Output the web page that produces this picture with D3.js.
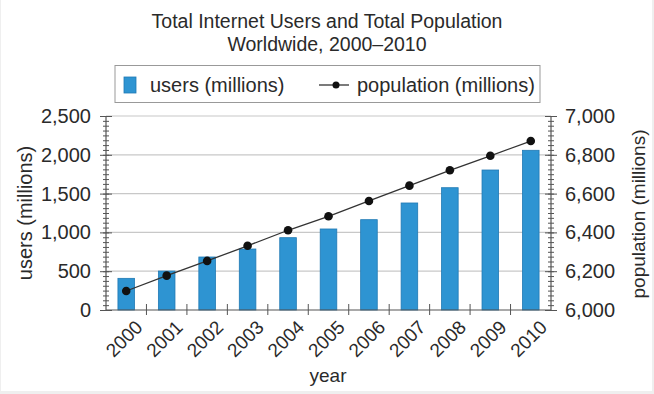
<!DOCTYPE html>
<html>
<head>
<meta charset="utf-8">
<script src="https://cdn.jsdelivr.net/npm/d3@7"></script>
<style>
  html, body { margin: 0; padding: 0; background: #efefef; }
  svg { display: block; }
  text { font-family: "Liberation Sans", Arial, sans-serif; fill: #2a2a2a; }
</style>
</head>
<body>
<svg id="chart" width="654" height="394"></svg>
<script>
// data
var years = ["2000","2001","2002","2003","2004","2005","2006","2007","2008","2009","2010"];
var users = [408, 502, 683, 786, 932, 1044, 1164, 1379, 1576, 1804, 2058];
var population = [6098, 6177, 6253, 6331, 6411, 6483, 6562, 6641, 6720, 6795, 6871];
var usersTicks = [0, 500, 1000, 1500, 2000, 2500];
var popTicks = [6000, 6200, 6400, 6600, 6800, 7000];
var titleLines = ["Total Internet Users and Total Population", "Worldwide, 2000\u20132010"];

var svg = d3.select("#chart");
var plotLeft = 106, plotRight = 551, plotTop = 116, plotBottom = 310;

svg.append("rect")
	.attr("x", 1).attr("y", 0)
	.attr("width", 651).attr("height", 391)
	.attr("fill", "#fff");

var x = d3.scaleBand()
	.domain(years)
	.range([plotLeft, plotRight])
	.paddingInner(0.59)
	.paddingOuter(0.295);

var y = d3.scaleLinear().domain([0, 2500]).range([plotBottom, plotTop]);
var y2 = d3.scaleLinear().domain([6000, 7000]).range([plotBottom, plotTop]);

// grid
svg.append("g")
	.selectAll("line")
	.data(usersTicks.slice(1))
	.join("line")
	.attr("x1", plotLeft).attr("x2", plotRight)
	.attr("y1", d => y(d)).attr("y2", d => y(d))
	.attr("stroke", "#c8c8c8")
	.attr("stroke-width", 1.2);

// bars
svg.append("g")
	.selectAll("rect")
	.data(users)
	.join("rect")
	.attr("x", (d, i) => x(years[i]))
	.attr("y", d => y(d))
	.attr("width", x.bandwidth())
	.attr("height", d => plotBottom - y(d))
	.attr("fill", "#2e94d2")
	.attr("stroke", "#2079b4")
	.attr("stroke-width", 0.8);

// population line
var line = d3.line()
	.x((d, i) => x(years[i]) + x.bandwidth() / 2)
	.y(d => y2(d));

svg.append("path")
	.datum(population)
	.attr("d", line)
	.attr("fill", "none")
	.attr("stroke", "#333")
	.attr("stroke-width", 1.3);

svg.append("g")
	.selectAll("circle")
	.data(population)
	.join("circle")
	.attr("cx", (d, i) => x(years[i]) + x.bandwidth() / 2)
	.attr("cy", d => y2(d))
	.attr("r", 4.3)
	.attr("fill", "#111");

// axes
function crossTicks(g, len) {
	g.selectAll(".tick line").attr("x1", len).attr("stroke", "#555");
	g.select(".domain").remove();
}

svg.append("g")
	.attr("transform", `translate(${plotLeft},0)`)
	.call(d3.axisLeft(y).tickValues(d3.range(0, 2501, 62.5)).tickSize(3).tickFormat(""))
	.call(g => crossTicks(g, 3));

svg.append("g")
	.attr("transform", `translate(${plotLeft},0)`)
	.call(d3.axisLeft(y).tickValues(usersTicks).tickSize(6).tickPadding(9).tickFormat(d3.format(",")))
	.call(g => crossTicks(g, 6))
	.call(g => g.selectAll("text").attr("font-size", 20).attr("font-family", null).attr("fill", "#2a2a2a"));

svg.append("g")
	.attr("transform", `translate(${plotRight},0)`)
	.call(d3.axisRight(y2).tickValues(d3.range(6000, 7001, 25)).tickSize(3).tickFormat(""))
	.call(g => crossTicks(g, -3));

svg.append("g")
	.attr("transform", `translate(${plotRight},0)`)
	.call(d3.axisRight(y2).tickValues(popTicks).tickSize(6).tickPadding(8).tickFormat(d3.format(",")))
	.call(g => crossTicks(g, -6))
	.call(g => g.selectAll("text").attr("font-size", 20).attr("font-family", null).attr("fill", "#2a2a2a"));

// axis lines
svg.append("line").attr("x1", plotLeft).attr("x2", plotLeft).attr("y1", plotTop).attr("y2", plotBottom).attr("stroke", "#555").attr("stroke-width", 1.2);
svg.append("line").attr("x1", plotRight).attr("x2", plotRight).attr("y1", plotTop).attr("y2", plotBottom).attr("stroke", "#555").attr("stroke-width", 1.2);
svg.append("line").attr("x1", plotLeft).attr("x2", plotRight).attr("y1", plotBottom).attr("y2", plotBottom).attr("stroke", "#555").attr("stroke-width", 1.2);

svg.append("g")
	.selectAll("line")
	.data(years.slice(1))
	.join("line")
	.attr("x1", d => x(d) - x.step() * x.paddingInner() / 2)
	.attr("x2", d => x(d) - x.step() * x.paddingInner() / 2)
	.attr("y1", plotBottom - 6).attr("y2", plotBottom + 5)
	.attr("stroke", "#555");

svg.append("g")
	.selectAll("text")
	.data(years)
	.join("text")
	.attr("transform", d => `translate(${x(d) + x.bandwidth() / 2 + 8},${plotBottom + 9}) rotate(-45)`)
	.attr("text-anchor", "end")
	.attr("dy", "0.7em")
	.attr("font-size", 19)
	.text(d => d);

// axis titles
svg.append("text")
	.attr("transform", `translate(25,213) rotate(-90)`)
	.attr("text-anchor", "middle")
	.attr("dy", "0.35em")
	.attr("font-size", 20)
	.text("users (millions)");

svg.append("text")
	.attr("transform", `translate(638,214) rotate(-90)`)
	.attr("text-anchor", "middle")
	.attr("dy", "0.35em")
	.attr("font-size", 19)
	.text("population (millions)");

svg.append("text")
	.attr("x", 328).attr("y", 382)
	.attr("text-anchor", "middle")
	.attr("font-size", 19)
	.text("year");

// title
svg.append("g")
	.selectAll("text")
	.data(titleLines)
	.join("text")
	.attr("x", 327)
	.attr("y", (d, i) => 28 + i * 23)
	.attr("text-anchor", "middle")
	.attr("font-size", 19.5)
	.text(d => d);

// legend
var legend = svg.append("g");
legend.append("rect")
	.attr("x", 115).attr("y", 65.5)
	.attr("width", 425).attr("height", 37)
	.attr("fill", "#fff")
	.attr("stroke", "#999");
legend.append("rect")
	.attr("x", 124).attr("y", 77)
	.attr("width", 12).attr("height", 16)
	.attr("fill", "#2e94d2")
	.attr("stroke", "#2079b4")
	.attr("stroke-width", 0.8);
legend.append("text")
	.attr("x", 150).attr("y", 85)
	.attr("dy", "0.35em")
	.attr("font-size", 20)
	.text("users (millions)");
legend.append("line")
	.attr("x1", 319).attr("x2", 349)
	.attr("y1", 85).attr("y2", 85)
	.attr("stroke", "#333").attr("stroke-width", 1.3);
legend.append("circle")
	.attr("cx", 336).attr("cy", 85).attr("r", 3.5)
	.attr("fill", "#111");
legend.append("text")
	.attr("x", 357).attr("y", 85)
	.attr("dy", "0.35em")
	.attr("font-size", 20)
	.text("population (millions)");
</script>
</body>
</html>
